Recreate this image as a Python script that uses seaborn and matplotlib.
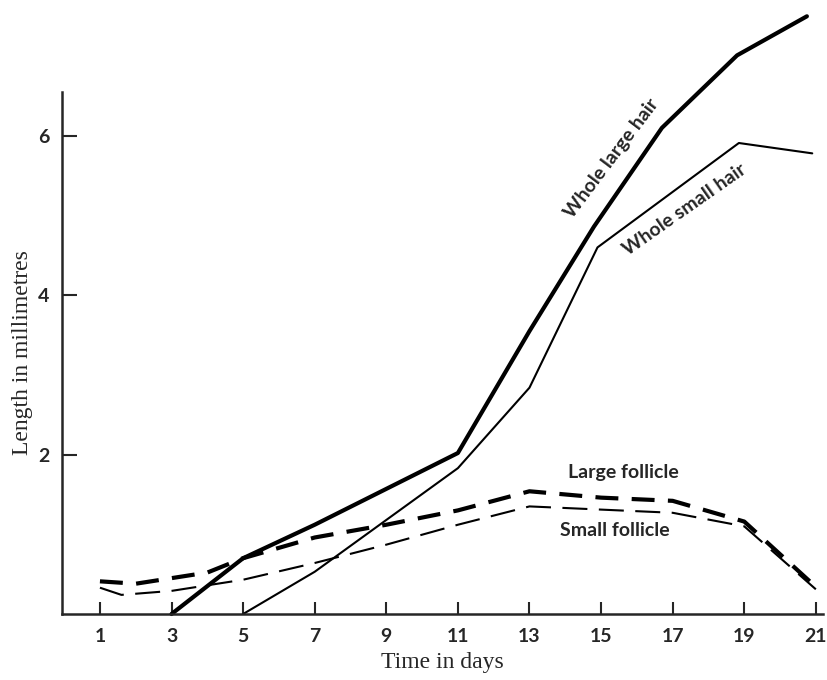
import numpy as np
import pandas as pd
import matplotlib
matplotlib.use("Agg")
import matplotlib.pyplot as plt
import seaborn as sns

sns.set_style("ticks")
plt.rcParams['font.family'] = ['Lato', 'DejaVu Sans']

# days / lengths (mm)
large_hair_days = [3, 5, 7, 11, 13, 14.8, 16.7, 18.8, 20.75]
large_hair_len = [0.0, 0.70, 1.12, 2.02, 3.55, 4.86, 6.10, 7.01, 7.50]

small_hair_days = [5, 7, 11, 13, 14.9, 18.85, 20.9]
small_hair_len = [0.0, 0.53, 1.83, 2.84, 4.60, 5.91, 5.78]

large_foll_days = [1, 2, 3, 4, 5, 7, 9, 11, 13, 15, 17, 19, 21]
large_foll_len = [0.41, 0.38, 0.45, 0.52, 0.70, 0.96, 1.12, 1.30, 1.54, 1.46, 1.42, 1.16, 0.34]

small_foll_days = [1, 1.6, 3, 5, 7, 9, 11, 13, 15, 17, 19, 21]
small_foll_len = [0.33, 0.24, 0.29, 0.43, 0.64, 0.87, 1.12, 1.35, 1.31, 1.27, 1.10, 0.31]

x_ticks = [1, 3, 5, 7, 9, 11, 13, 15, 17, 19, 21]
y_ticks = [2, 4, 6]

fig = plt.figure(figsize=(8.28, 6.8), dpi=100)
ax = fig.add_axes([62 / 828, 66 / 680, 761 / 828, 522 / 680])

common = dict(ax=ax, color="black", errorbar=None, clip_on=False, legend=False)
sns.lineplot(x=large_hair_days, y=large_hair_len, lw=3.0, **common)
sns.lineplot(x=small_hair_days, y=small_hair_len, lw=1.5, **common)
sns.lineplot(x=large_foll_days, y=large_foll_len, lw=3.0,
             linestyle=(0, (5.5, 3.2)), **common)
sns.lineplot(x=small_foll_days, y=small_foll_len, lw=1.5,
             linestyle=(0, (12, 5.5)), **common)

ax.set_xlim(-0.06, 21.2)
ax.set_ylim(0, 6.55)
ax.set_xticks(x_ticks)
ax.set_yticks(y_ticks)
ax.tick_params(axis="x", direction="in", length=9, width=1.5, pad=10, labelsize=14)
ax.tick_params(axis="y", direction="in", length=11, width=1.5, pad=9, labelsize=14)
for lab in ax.get_xticklabels() + ax.get_yticklabels():
    lab.set_fontweight("bold")
sns.despine(ax=ax)
for sp in ["left", "bottom"]:
    ax.spines[sp].set_linewidth(1.8)

serif = ["Liberation Serif", "DejaVu Serif"]
ax.set_xlabel("Time in days", family=serif, fontsize=17, labelpad=5)
ax.set_ylabel("Length in millimetres", family=serif, fontsize=17, labelpad=4)

lab_kw = dict(fontsize=14, fontweight="bold", ha="center", va="center",
              rotation_mode="anchor")
ax.text(15.28, 5.72, "Whole large hair", rotation=53, **lab_kw)
ax.text(17.32, 5.07, "Whole small hair", rotation=35, **lab_kw)
ax.text(15.61, 1.77, "Large follicle", **lab_kw)
ax.text(15.39, 1.05, "Small follicle", **lab_kw)

fig.savefig("out.png", dpi=100)
